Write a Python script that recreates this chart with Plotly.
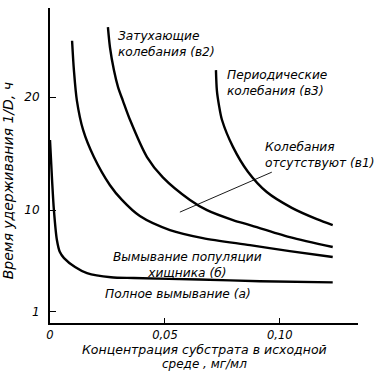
import plotly.graph_objects as go

# Concentration of substrate (mg/ml) and retention time 1/D (h) for each boundary curve
alpha_c = [0.0, 0.0009, 0.0017, 0.003, 0.0043, 0.0061, 0.0109, 0.0161, 0.0265, 0.0365, 0.065, 0.0913, 0.123]
alpha_v = [16.2, 12.65, 10.0, 7.35, 6.28, 5.75, 4.96, 4.42, 4.05, 3.98, 3.85, 3.7, 3.6]

b_c = [0.0096, 0.0104, 0.0117, 0.0144, 0.0191, 0.0261, 0.0313, 0.0391, 0.0522, 0.0665, 0.087, 0.1043, 0.123]
b_v = [25.0, 22.4, 19.7, 17.1, 14.7, 12.2, 10.9, 9.47, 8.23, 7.52, 6.9, 6.37, 5.84]

v2_c = [0.0252, 0.0261, 0.0278, 0.0296, 0.0317, 0.0348, 0.0422, 0.0491, 0.0609, 0.0683, 0.0796, 0.087, 0.1043, 0.123]
v2_v = [26.2, 24.4, 22.4, 20.9, 19.7, 18.0, 14.7, 12.9, 10.9, 10.0, 9.12, 8.67, 7.61, 6.73]

v3_c = [0.0722, 0.0726, 0.0735, 0.0748, 0.0796, 0.0861, 0.0943, 0.1052, 0.1161, 0.123]
v3_v = [22.4, 20.6, 19.3, 18.0, 15.6, 13.4, 11.6, 10.2, 9.2, 8.67]

pointer_c = [0.0565, 0.0965]
pointer_v = [9.82, 13.36]

x_ticks = [0, 0.05, 0.10]
x_tick_labels = ["0", "0,05", "0,10"]
y_ticks = [1, 10, 20]
y_tick_labels = ["1", "10", "20"]

FONT = "DejaVu Sans"
fig = go.Figure()
for cx, vy in [(alpha_c, alpha_v), (b_c, b_v), (v2_c, v2_v), (v3_c, v3_v)]:
    fig.add_trace(go.Scatter(x=cx, y=vy, mode="lines", line=dict(color="black", width=2.4, shape="spline", smoothing=0.8),
                             hoverinfo="skip", showlegend=False))
fig.add_trace(go.Scatter(x=pointer_c, y=pointer_v, mode="lines", line=dict(color="black", width=0.9),
                         hoverinfo="skip", showlegend=False))

ann_font = dict(family=FONT, size=12.2, color="black", style="italic")
notes = [
    (0.0287, 24.7, "Затухающие<br>колебания (в2)", "left"),
    (0.0761, 21.3, "Периодические<br>колебания (в3)", "left"),
    (0.0925, 14.9, "Колебания<br>отсутствуют (в1)", "left"),
    (0.0600, 5.15, "Вымывание популяции<br>хищника (б)", "center"),
    (0.0557, 2.6, "Полное вымывание (а)", "center"),
]
for x, y, t, anc in notes:
    fig.add_annotation(x=x, y=y, text=t, showarrow=False, xanchor=anc, yanchor="middle",
                       align="center" if anc == "center" else "left", font=ann_font)

fig.add_annotation(xref="paper", yref="paper", x=0.503, y=0, yshift=-26, xanchor="center", yanchor="middle",
                   text="Концентрация субстрата в исходной", showarrow=False,
                   font=dict(family=FONT, size=12.5, color="black", style="italic"))
fig.add_annotation(xref="paper", yref="paper", x=0.503, y=0, yshift=-41, xanchor="center", yanchor="middle",
                   text="среде , мг/мл", showarrow=False,
                   font=dict(family=FONT, size=12, color="black", style="italic"))
fig.add_annotation(xref="paper", yref="paper", x=0, xshift=-42, y=0.45, xanchor="center", yanchor="middle",
                   textangle=-90, text="Время удерживания 1/D, ч", showarrow=False,
                   font=dict(family=FONT, size=14, color="black", style="italic"))

fig.update_layout(
    width=386, height=373,
    margin=dict(l=50, r=28, t=8, b=50, autoexpand=False),
    paper_bgcolor="white", plot_bgcolor="white",
    xaxis=dict(range=[0, 0.134], showgrid=False, zeroline=False, showline=True, linecolor="black", linewidth=2,
               tickmode="array", tickvals=x_ticks, ticktext=x_tick_labels, ticks="inside", ticklen=5,
               tickcolor="black", tickwidth=1, automargin=False,
               tickfont=dict(family=FONT, size=11.5, color="black", style="italic")),
    yaxis=dict(range=[0, 27.9], showgrid=False, zeroline=False, showline=True, linecolor="black", linewidth=2,
               tickmode="array", tickvals=y_ticks, ticktext=y_tick_labels, ticks="inside", ticklen=6,
               tickcolor="black", tickwidth=1, ticklabelstandoff=6, automargin=False,
               tickfont=dict(family=FONT, size=12, color="black", style="italic")),
)
fig.write_html("out.html", config={"displayModeBar": False},
               post_script="document.body.style.margin='0';")
